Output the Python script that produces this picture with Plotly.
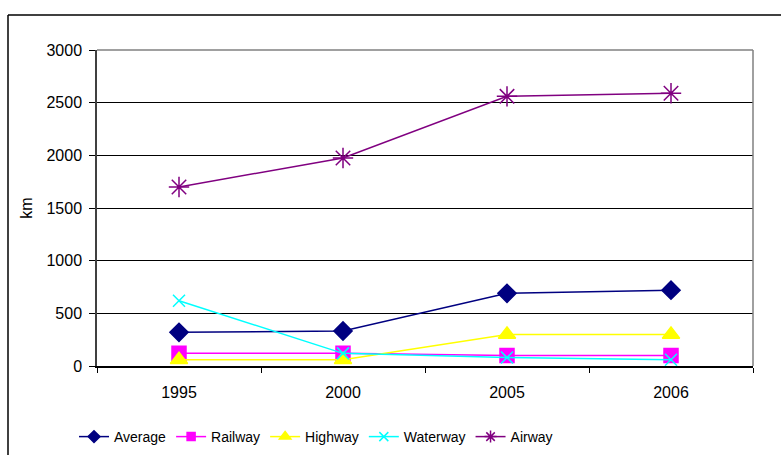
import plotly.graph_objects as go

years = ["1995", "2000", "2005", "2006"]
average = [320, 332, 690, 720]
railway = [120, 120, 100, 100]
highway = [60, 60, 300, 300]
waterway = [620, 120, 80, 60]
airway = [1700, 1975, 2560, 2590]

y_ticks = [0, 500, 1000, 1500, 2000, 2500, 3000]

# name, values, colour, symbol, plot marker size, legend marker size
series = [
    ("Average", average, "#000080", "diamond", 14, 9),
    ("Railway", railway, "#FF00FF", "square", 14, 8),
    ("Highway", highway, "#FFFF00", "triangle-up", 15, 10),
    ("Waterway", waterway, "#00FFFF", "x-thin-open", 12, 9),
    ("Airway", airway, "#800080", "asterisk-open", 17, 10),
]

fig = go.Figure()
for name, vals, color, symbol, size, lsize in series:
    fig.add_trace(go.Scatter(
        x=years, y=vals, name=name, mode="lines+markers", showlegend=False,
        line=dict(color=color, width=1.5),
        marker=dict(symbol=symbol, size=size, color=color,
                    line=dict(color=color, width=1.5)),
    ))
for name, vals, color, symbol, size, lsize in series:
    # legend entries with smaller symbols
    fig.add_trace(go.Scatter(
        x=[None], y=[None], name=name, mode="lines+markers", showlegend=True,
        line=dict(color=color, width=1.5),
        marker=dict(symbol=symbol, size=lsize, color=color,
                    line=dict(color=color, width=1.5)),
    ))

L, R, T, B = 97, 753, 50, 366
W, H = 781, 455
pw, ph = R - L, B - T

def px(x):
    return (x - L) / pw

def py(y):
    return (B - y) / ph

shapes = [
    # plot area frame (top and right in gray)
    dict(type="line", xref="paper", yref="paper", x0=0, x1=1, y0=1, y1=1,
         line=dict(color="#808080", width=1.5)),
    dict(type="line", xref="paper", yref="paper", x0=1, x1=1, y0=0, y1=1,
         line=dict(color="#808080", width=1.5)),
    # outer chart border
    dict(type="line", xref="paper", yref="paper", x0=px(8), x1=px(8),
         y0=py(15), y1=py(470), line=dict(color="black", width=1.5)),
    dict(type="line", xref="paper", yref="paper", x0=px(8), x1=px(800),
         y0=py(15), y1=py(15), line=dict(color="black", width=1.5)),
]

fig.update_layout(
    width=W, height=H,
    margin=dict(l=L, r=W - R, t=T, b=H - B, autoexpand=False),
    paper_bgcolor="white", plot_bgcolor="white",
    font=dict(family="Liberation Sans, Arial, sans-serif", size=16, color="black"),
    showlegend=True,
    legend=dict(orientation="h", x=px(74), xanchor="left", y=py(437), yanchor="middle",
                font=dict(size=14), itemwidth=30, tracegroupgap=0,
                bgcolor="rgba(0,0,0,0)"),
    shapes=shapes,
    xaxis=dict(type="category", tickson="boundaries", ticks="outside", ticklen=5,
               tickcolor="black", showline=True, linecolor="black", linewidth=1.5,
               showgrid=False, tickfont=dict(size=16), range=[-0.5, 3.5],
               ticklabelstandoff=11),
    yaxis=dict(range=[0, 3000], tickvals=y_ticks, ticks="outside", ticklen=6,
               tickcolor="black", showline=True, linecolor="#404040", linewidth=1.5,
               showgrid=True, gridcolor="black", gridwidth=1, zeroline=False,
               tickfont=dict(size=16), ticklabelstandoff=4,
               title=dict(text="km", font=dict(size=16), standoff=10)),
)

fig.write_html("out.html")
